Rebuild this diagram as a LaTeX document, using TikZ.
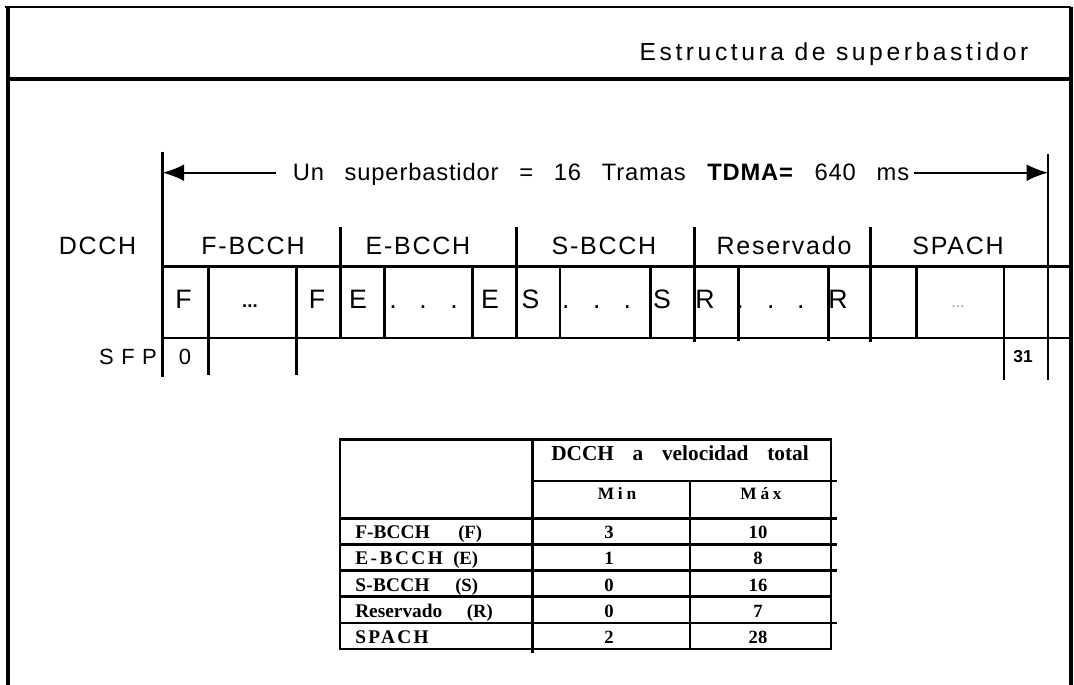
\documentclass[tikz,border=0pt]{standalone}
\usepackage{fontspec}
\setmainfont{Liberation Sans}
\newfontfamily\tabfont{Liberation Serif}
\newfontfamily\spanfont[WordSpace=2.8, LetterSpace=3.5]{Liberation Sans}
\newfontfamily\headfont[WordSpace=3.5]{Liberation Serif}
\usetikzlibrary{arrows.meta, math}
\definecolor{dotgray}{RGB}{150,150,150}

\begin{document}
\begin{tikzpicture}[x=0.75pt, y=-0.75pt,
  frameline/.style={line width=2.4pt},
  gridline/.style={line width=2.2pt},
  tabline/.style={line width=2pt},
  spanarrow/.style={line width=1.25pt, -{Latex[length=16pt, width=12.5pt]}},
  titletext/.style={anchor=base, inner sep=0pt, font={\fontsize{18.5}{20}\selectfont\addfontfeature{LetterSpace=14.5}}},
  spantext/.style={anchor=base, inner sep=0pt, font=\spanfont\fontsize{17.8}{20}\selectfont},
  toplabel/.style={anchor=base, inner sep=0pt, font={\fontsize{18.75}{20}\selectfont\addfontfeature{LetterSpace=7}}},
  slotlabel/.style={anchor=base, inner sep=0pt, font=\fontsize{20}{22}\selectfont},
  sfplabel/.style={anchor=base, inner sep=0pt, font={\fontsize{16.5}{18}\selectfont\addfontfeature{LetterSpace=34}}},
  tabhead/.style={anchor=base, inner sep=0pt, font=\headfont\bfseries\fontsize{16}{18}\selectfont},
  tabsub/.style={anchor=base, inner sep=0pt, font={\tabfont\bfseries\fontsize{13}{14}\selectfont\addfontfeature{LetterSpace=22}}},
  tabnum/.style={anchor=base, inner sep=0pt, font=\tabfont\bfseries\fontsize{14}{15}\selectfont},
  rowcode/.style={anchor=base west, inner sep=0pt, font=\tabfont\bfseries\fontsize{14}{15}\selectfont}]
\tikzmath{
\xL=162.7;
\xR=1048;
\yT=266.7;
\yM=338;
\tabL=340;
\tabC=532.7;
\tabM=690;
\tabR=831;
\tabTop=439.3;
\tabSub=481;
\tabHead=518.3;
\rowh=26.14;
\tabBot=649;
}
\useasboundingbox (0,0) rectangle (1074,685);

% frame and title
\draw[frameline] (8,685) -- (8,7);
\draw[line width=1.75pt] (5,7) -- (1071,7);
\draw[frameline] (1071,7) -- (1071,685);
\draw[line width=3pt] (8,79) -- (1071,79);
\node[titletext] (title) at (834,61) {Estructura de superbastidor};

% superframe span
\draw[gridline] (\xL,151.7) -- (\xL,377);
\draw[gridline] (\xR,154) -- (\xR,380);
\node[spantext] (span) at (601,180) {Un superbastidor = 16 Tramas \textbf{TDMA=} 640 ms};
\coordinate (lend) at (\xL,172.7);
\coordinate (rend) at (\xR,172.7);
\coordinate (lstart) at ([xshift=-12.75pt]span.west);
\coordinate (rstart) at ([xshift=3.75pt]span.east);
\draw[spanarrow] (lstart |- lend) -- (lend);
\draw[spanarrow] (rstart |- rend) -- (rend);

% channel groups
\node[toplabel] (dcch) at (97.5,254) {DCCH};
\node[toplabel] (fbcch) at (253,254) {F-BCCH};
\node[toplabel] (ebcch) at (418,254) {E-BCCH};
\node[toplabel] (sbcch) at (604,254) {S-BCCH};
\node[toplabel] (resv) at (784,254) {Reservado};
\node[toplabel] (spach) at (958,254) {SPACH};
\draw[gridline] (\xL,\yT) -- (1071,\yT);
\draw[gridline] (\xL,\yM) -- (1071,\yM);
\foreach \x/\yb in {340.7/338, 516.3/338, 694.3/341.7, 870.3/341.7}
  \draw[gridline] (\x,227) -- (\x,\yb);
\foreach \x/\yb in {384.3/338, 472.3/338, 560/338, 650.3/338, 738.7/341, 828.3/341, 916.7/338}
  \draw[gridline] (\x,\yT) -- (\x,\yb);
\foreach \x in {208.7, 296.3}
  \draw[gridline] (\x,\yT) -- (\x,375);
\draw[gridline] (1004,\yT) -- (1004,380);

% slots
\foreach \x/\t/\n in {183.5/F/fa, 317/F/fb, 358/E/ea, 490/E/eb, 530.6/S/sa, 662/S/sb, 705/R/ra, 838/R/rb}
  \node[slotlabel] (\n) at (\x,308.5) {\t};
\foreach \x [count=\i] in {393, 423, 454, 565.7, 596.7, 627.3, 740, 770.7, 800.7}
  \node[slotlabel] (dot\i) at (\x,308.5) {.};
\node[anchor=base, inner sep=0pt, font=\bfseries\fontsize{14}{16}\selectfont] (fdots) at (250,307) {...};
\node[anchor=base, inner sep=0pt, text=dotgray, font=\fontsize{12}{14}\selectfont] (spdots) at (958,307.7) {...};

% SFP numbers
\node[sfplabel] (sfp) at (128,364) {SFP};
\node[anchor=base, inner sep=0pt, font=\fontsize{16.5}{18}\selectfont] (sfpfirst) at (185,364) {0};
\node[anchor=base, inner sep=0pt, font=\bfseries\fontsize{13}{14}\selectfont] (sfplast) at (1023,362.7) {31};

% table
\draw[tabline] (\tabL,\tabTop) rectangle (\tabR,\tabBot);
\draw[tabline] (\tabC,\tabTop) -- (\tabC,653);
\draw[tabline] (\tabM,\tabSub) -- (\tabM,\tabBot);
\draw[tabline] (\tabC,\tabSub) -- (837,\tabSub);
\draw[tabline] (\tabL,\tabHead) -- (837,\tabHead);
\foreach \i in {1,2,4}
  \draw[tabline] (\tabL,{\tabHead+\i*\rowh}) -- (837,{\tabHead+\i*\rowh});
\draw[tabline] (\tabL,{\tabHead+3*\rowh}) -- (\tabR,{\tabHead+3*\rowh});
\node[tabhead] (vel) at (680,460) {DCCH a velocidad total};
\node[tabsub] (min) at (617,499.5) {Min};
\node[tabsub] (max) at (761,499.5) {Máx};
\foreach \lab/\ls/\mn/\mx [count=\i] in {F-BCCH/0.5/3/10, E-BCCH/13/1/8, S-BCCH/1.5/0/16, Reservado/0/0/7, SPACH/12/2/28}{
  \node[anchor=base west, inner sep=0pt, font={\tabfont\bfseries\fontsize{14.5}{16}\selectfont\addfontfeature{LetterSpace=\ls}}]
    (lab\i) at (355,{\tabHead+\i*\rowh-5.6}) {\lab};
  \node[tabnum] (mn\i) at (609,{\tabHead+\i*\rowh-5.6}) {\mn};
  \node[tabnum] (mx\i) at (758,{\tabHead+\i*\rowh-5.6}) {\mx};
}
\foreach \cod/\cx [count=\i] in {(F)/458, (E)/453, (S)/455, (R)/466.7}
  \node[rowcode] (cod\i) at (\cx,{\tabHead+\i*\rowh-5.6}) {\cod};
\end{tikzpicture}
\end{document}
